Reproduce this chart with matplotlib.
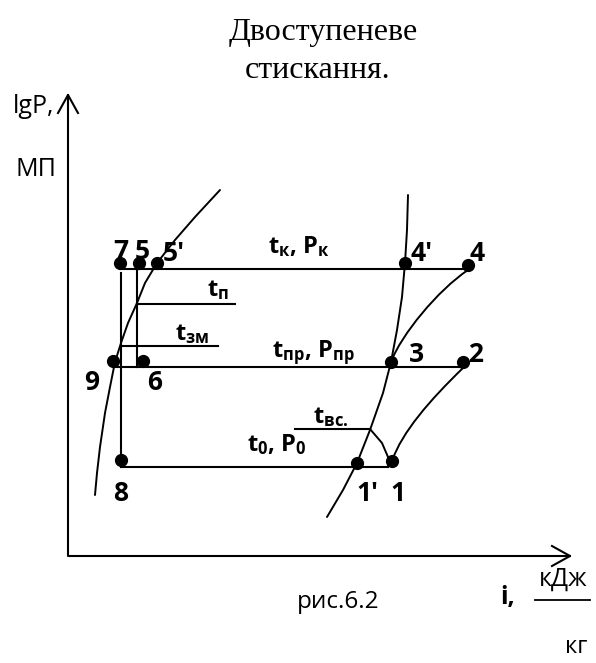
import matplotlib
matplotlib.use("Agg")
import matplotlib.pyplot as plt
from matplotlib.path import Path
from matplotlib.patches import PathPatch

# two-stage compression cycle on lgP-i diagram (schematic, pixel-like units)
# state points
pt_names = ["7", "5", "5'", "4'", "4", "9", "6", "3", "2", "8", "1'", "1"]
pt_i = [120, 139, 157, 405, 468, 113, 143, 391, 463, 121, 357, 392]
pt_p = [263, 263, 263, 263, 265, 361, 361, 362, 362, 460, 463, 461]

# label positions for the points
lab_i = [121, 142, 174, 422, 477, 92, 155, 416, 476, 121, 367, 398]
lab_p = [259, 259, 261, 261, 261, 390, 390, 362, 362, 501, 501, 501]

# saturated liquid line
liq_i = [95, 97, 100, 105, 110, 115, 121, 128, 137, 145, 157, 175, 195, 220]
liq_p = [495, 473, 447, 413, 387, 362, 343, 323, 303, 283, 263, 240, 217, 190]
# saturated vapour line
vap_i = [408, 407, 405, 402, 397, 391, 383, 370, 357, 343, 327]
vap_p = [195, 230, 263, 297, 330, 362, 393, 430, 463, 490, 517]
# compression 1-2 and 3-4 (bezier: start, ctrl, ctrl, end)
c12_i = [392, 402, 430, 463]
c12_p = [461, 432, 400, 368]
c34_i = [391, 401, 438, 468]
c34_p = [362, 335, 290, 270]
# suction superheat line
vs_i = [370, 382, 388, 388]
vs_p = [429, 443, 457, 467]

# isobars / isotherms: (i start, i end, level)
hlines = [(120, 468, 269), (113, 463, 367), (121, 388, 467),
          (137, 235, 304), (122, 218, 346), (295, 370, 429)]
# throttling verticals: (i, p start, p end)
vlines = [(121, 273, 467), (137, 269, 367)]

# isoline labels: text, i, p(baseline)
iso_txt = [r"$\mathbf{t_{к}}$, $\mathbf{P_{к}}$", r"$\mathbf{t_{п}}$", r"$\mathbf{t_{зм}}$",
           r"$\mathbf{t_{пр}}$, $\mathbf{P_{пр}}$", r"$\mathbf{t_{вс.}}$", r"$\mathbf{t_{0}}$, $\mathbf{P_{0}}$"]
iso_i = [268, 207, 175, 272, 313, 247]
iso_p = [253, 296, 340, 357, 423, 451]

plt.rcParams['font.family'] = ['Open Sans', 'DejaVu Sans']
plt.rcParams['mathtext.fontset'] = 'custom'
plt.rcParams['mathtext.rm'] = 'Open Sans'
plt.rcParams['mathtext.bf'] = 'Open Sans:bold'

fig = plt.figure(figsize=(5.96, 6.63), dpi=100)
ax = fig.add_axes([0, 0, 1, 1])
ax.set_xlim(0, 596)
ax.set_ylim(663, 0)
ax.axis('off')

lw = 1.5
# axes with open arrow heads
ax.plot([68, 68, 570], [95, 556, 556], color='black', lw=lw)
ax.plot([58, 68, 78], [113, 95, 113], color='black', lw=lw)
ax.plot([552, 570, 552], [546, 556, 566], color='black', lw=lw)

for x0, x1, y in hlines:
    ax.plot([x0, x1], [y, y], color='black', lw=lw)
for x, y0, y1 in vlines:
    ax.plot([x, x], [y0, y1], color='black', lw=lw)

for xs, ys in [(liq_i, liq_p), (vap_i, vap_p), (vs_i, vs_p)]:
    ax.plot(xs, ys, color='black', lw=1.4, solid_capstyle='round', solid_joinstyle='round')

codes = [Path.MOVETO, Path.CURVE4, Path.CURVE4, Path.CURVE4]
for xs, ys in [(c12_i, c12_p), (c34_i, c34_p)]:
    ax.add_patch(PathPatch(Path(list(zip(xs, ys)), codes), fc='none', ec='black', lw=1.4))

ax.plot(pt_i, pt_p, 'o', color='black', ms=8.5, ls='none')
for n, x, y in zip(pt_names, lab_i, lab_p):
    ax.text(x, y, n, fontsize=19, fontweight='bold', ha='center', va='baseline')

for t, x, y in zip(iso_txt, iso_i, iso_p):
    ax.text(x, y, t, fontsize=17, fontweight='bold', ha='left', va='baseline')

# titles and axis captions
ax.text(323, 40, "Двоступеневе", family='Liberation Serif', fontsize=23, ha='center', va='baseline')
ax.text(318, 78, "стискання.", family='Liberation Serif', fontsize=23, ha='center', va='baseline')
ax.text(13, 113, "lgP,", fontsize=18, ha='left', va='baseline')
ax.text(15, 176, "МП", fontsize=18, ha='left', va='baseline')
ax.text(297, 608, "рис.6.2", fontsize=17.5, ha='left', va='baseline')
ax.text(500, 604, "i,", fontsize=18, fontweight='bold', ha='left', va='baseline')
ax.text(563, 586, "кДж", fontsize=18, ha='center', va='baseline')
ax.plot([535, 590], [600, 600], color='black', lw=1.3)
ax.text(576, 653, "кг", fontsize=17, ha='center', va='baseline')

fig.savefig("out.png", dpi=100)
